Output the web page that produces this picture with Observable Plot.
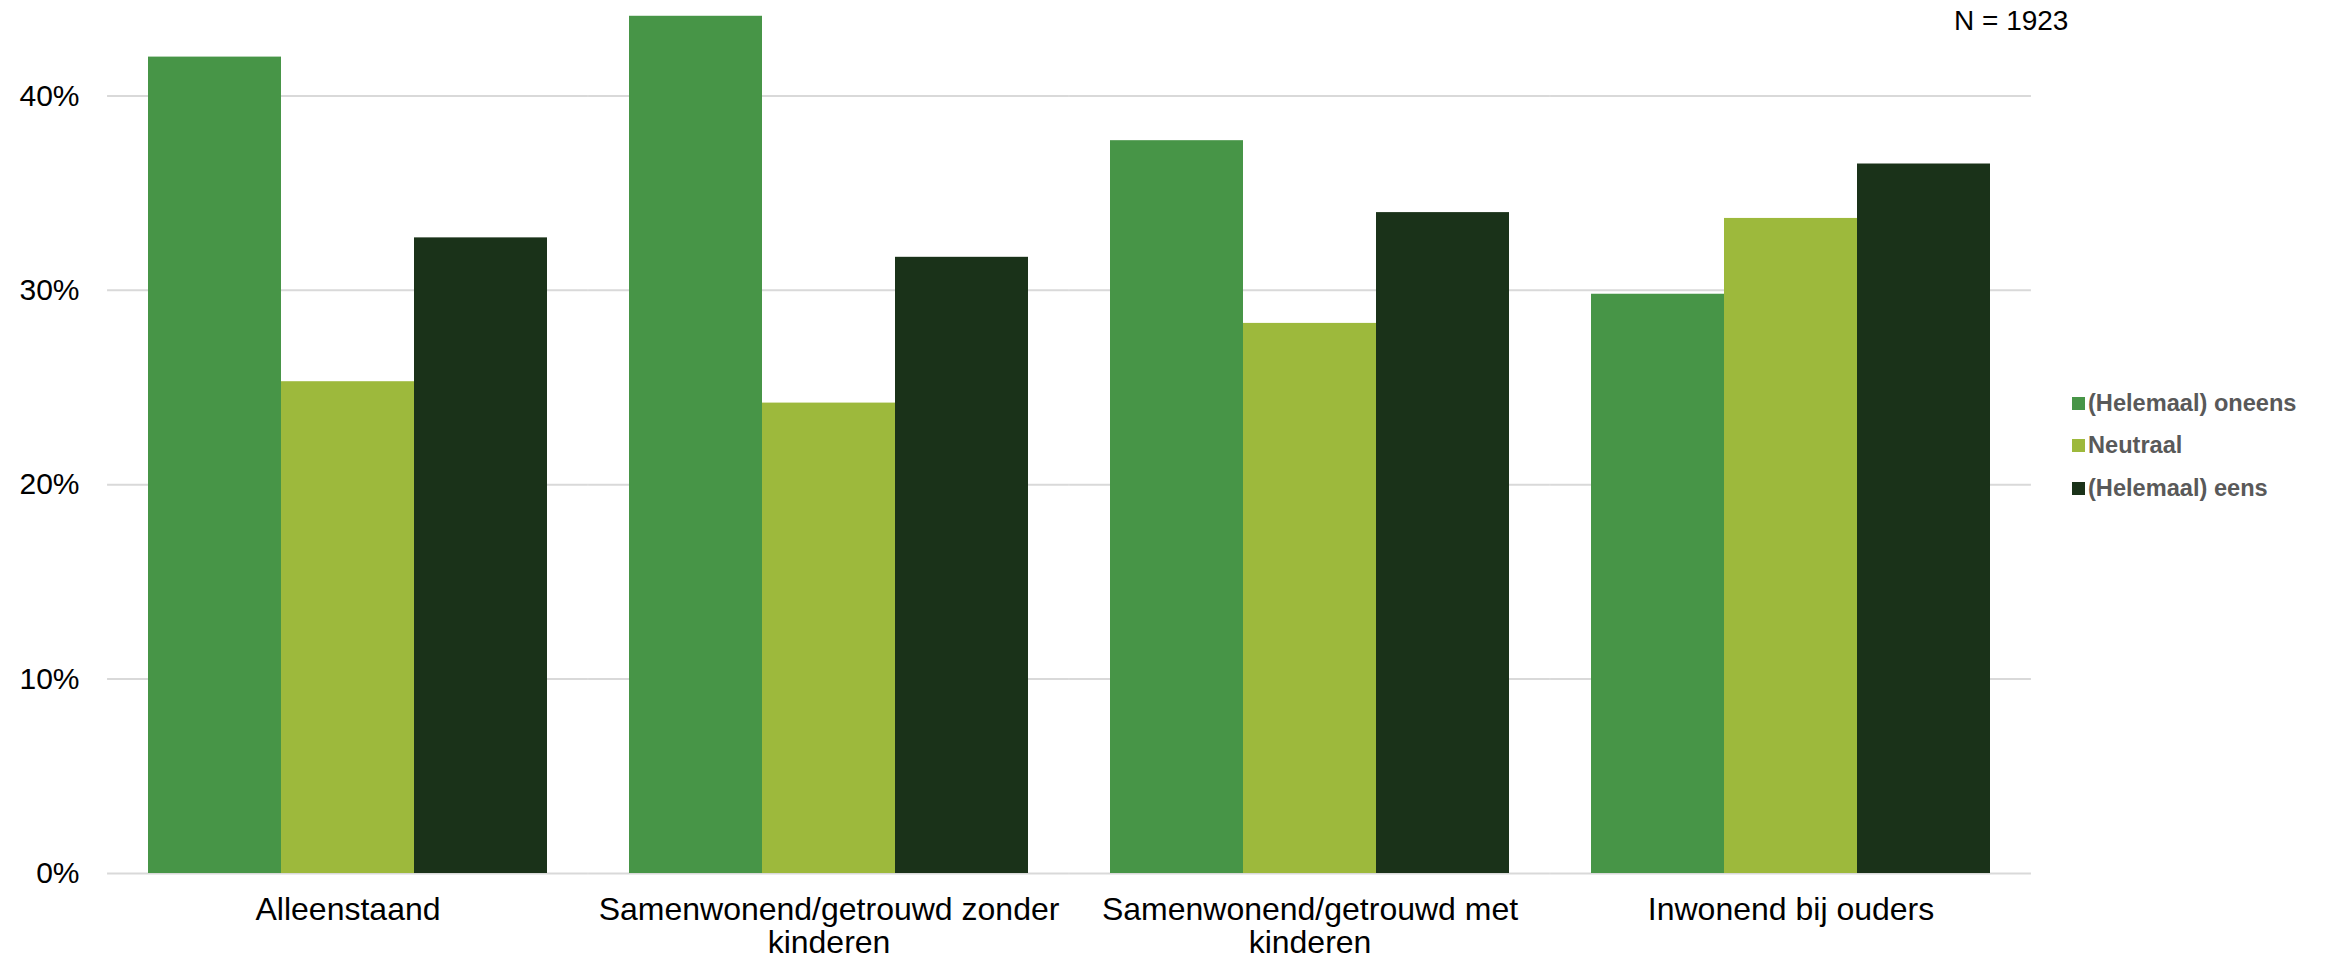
<!DOCTYPE html>
<html><head><meta charset="utf-8">
<script src="https://cdn.jsdelivr.net/npm/d3@7"></script>
<script src="https://cdn.jsdelivr.net/npm/@observablehq/plot@0.6"></script>
<style>
body{margin:0;background:#fff;}
#wrap{position:relative;width:2325px;height:963px;font-family:"Liberation Sans",Arial,sans-serif;}
#n{position:absolute;left:1954px;top:5px;font-size:28px;color:#000;white-space:pre;}
#legend{position:absolute;left:2072px;top:382px;}
.item{display:flex;align-items:center;height:42.5px;font-weight:bold;font-size:23.6px;color:#595959;white-space:nowrap;}
.sw{width:13px;height:13px;margin-right:3px;}
</style></head><body><div id="wrap"></div>
<script>
const groups = ["Alleenstaand", "Samenwonend/getrouwd zonder kinderen", "Samenwonend/getrouwd met kinderen", "Inwonend bij ouders"];
const groupLabels = ["Alleenstaand", "Samenwonend/getrouwd zonder\nkinderen", "Samenwonend/getrouwd met\nkinderen", "Inwonend bij ouders"];
const series = ["(Helemaal) oneens", "Neutraal", "(Helemaal) eens"];
const oneens = [42.0, 44.1, 37.7, 29.8];
const neutraal = [25.3, 24.2, 28.3, 33.7];
const eens = [32.7, 31.7, 34.0, 36.5];
const colors = ["#479547", "#9DB93C", "#1A3219"];
const yTicks = [0, 10, 20, 30, 40];
const note = "N = 1923";

const seriesValues = [oneens, neutraal, eens];
const data = [];
groups.forEach((g, i) => series.forEach((s, j) => data.push({group: g, series: s, value: seriesValues[j][i]})));
const labelOf = new Map(groups.map((g, i) => [g, groupLabels[i]]));

const W = 2325, H = 963, mL = 147, mR = 334, mT = 8, mB = 90;
const padInner = 0.17;
const step = (W - mL - mR) / (groups.length - padInner);
const halfGap = step * padInner / 2;

const chart = Plot.plot({
  width: W, height: H,
  marginLeft: mL, marginRight: mR, marginTop: mT, marginBottom: mB,
  style: {fontFamily: "'Liberation Sans', Arial, sans-serif", background: "white", color: "#000"},
  fx: {domain: groups, paddingInner: padInner, paddingOuter: 0, label: null},
  x: {domain: series, padding: 0, axis: null},
  y: {domain: [0, 44.5], label: null},
  color: {domain: series, range: colors},
  marks: [
    Plot.ruleY(yTicks, {stroke: "#D9D9D9", strokeWidth: 2, insetLeft: -halfGap, insetRight: -halfGap}),
    Plot.barY(data, {fx: "group", x: "series", y: "value", fill: "series"}),
    Plot.axisY({ticks: yTicks, tickFormat: d => d + "%", tickSize: 0, tickPadding: 69, fontSize: 30, label: null}),
    Plot.axisFx({anchor: "bottom", tickSize: 0, tickPadding: 23, fontSize: 32, lineHeight: 1.03, tickFormat: d => labelOf.get(d), label: null})
  ]
});
const wrap = document.getElementById("wrap");
wrap.appendChild(chart);

const n = document.createElement("div");
n.id = "n"; n.textContent = note;
wrap.appendChild(n);

const legend = document.createElement("div");
legend.id = "legend";
series.forEach((s, j) => {
  const item = document.createElement("div");
  item.className = "item";
  const sw = document.createElement("span");
  sw.className = "sw"; sw.style.background = colors[j];
  const t = document.createElement("span");
  t.textContent = s;
  item.appendChild(sw); item.appendChild(t);
  legend.appendChild(item);
});
wrap.appendChild(legend);
</script>
</body></html>
